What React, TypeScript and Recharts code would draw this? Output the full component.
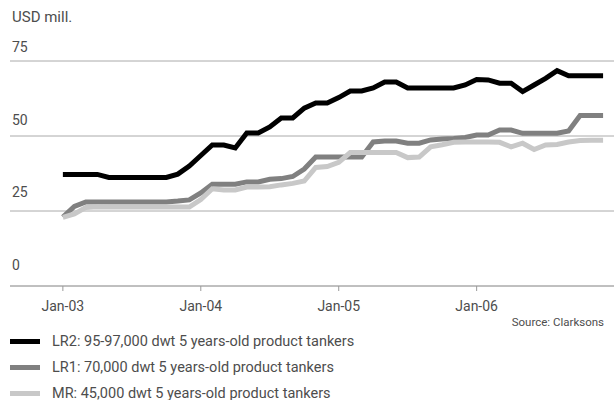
import { CartesianGrid, Line, LineChart, XAxis, YAxis } from "recharts";

// monthly prices, Jan-03 .. Dec-06 (USD mill.)
const lr2 = [
  37.2, 37.2, 37.2, 37.2, 36.2, 36.2, 36.2, 36.2, 36.2, 36.2, 37.3, 40,
  43.5, 47, 47, 46, 51, 51, 53, 56, 56, 59.3, 61, 61,
  62.8, 65, 65, 66, 68, 68, 66, 66, 66, 66, 66, 67,
  68.8, 68.7, 67.6, 67.6, 64.8, 67, 69.2, 71.8, 70.1, 70.1, 70.1, 70.1,
];
const lr1 = [
  23, 26.5, 28, 28, 28, 28, 28, 28, 28, 28, 28.3, 28.7,
  31, 33.9, 33.9, 33.9, 34.7, 34.7, 35.6, 35.8, 36.5, 39, 43, 43,
  43, 43, 43, 48, 48.3, 48.3, 47.6, 47.6, 48.7, 49, 49.2, 49.5,
  50.3, 50.3, 52, 52, 50.9, 50.9, 50.9, 50.9, 51.7, 56.8, 56.8, 56.8,
];
const mr = [
  22.9, 24, 26.2, 26.4, 26.3, 26.3, 26.3, 26.3, 26.3, 26.3, 26.3, 26.3,
  28.8, 32.4, 32, 32, 33, 33, 33.1, 33.7, 34.2, 35, 39.5, 39.8,
  41.2, 44.5, 44.5, 44.5, 44.5, 44.5, 42.8, 43, 46.4, 47.1, 47.9, 48,
  48, 48, 47.9, 46.4, 47.6, 45.5, 47, 47.2, 48, 48.5, 48.6, 48.6,
];

const xTicks = [0, 12, 24, 36];
const xTickLabels = ["Jan-03", "Jan-04", "Jan-05", "Jan-06"];
const yTicks = [0, 25, 50, 75];

const series = [
  { key: "lr2", name: "LR2: 95-97,000 dwt 5 years-old product tankers", color: "#000000" },
  { key: "lr1", name: "LR1: 70,000 dwt 5 years-old product tankers", color: "#808080" },
  { key: "mr", name: "MR: 45,000 dwt 5 years-old product tankers", color: "#c8c8c8" },
];

const data = lr2.map((v, i) => ({ m: i, lr2: v, lr1: lr1[i], mr: mr[i] }));

const FONT = "Roboto, sans-serif";
const TEXT = "#4d4d4d";

function YTick(props: any) {
  const { y, payload } = props;
  const v = payload.value as number;
  return (
    <text x={12} y={y} dy={-14 - (75 - v) / 10 + 5} fill={TEXT} fontSize={14} fontFamily={FONT}>
      {v}
    </text>
  );
}

function XTick(props: any) {
  const { x, y, payload } = props;
  return (
    <text x={x} y={y + 18} textAnchor="middle" fill={TEXT} fontSize={14} fontFamily={FONT}>
      {xTickLabels[xTicks.indexOf(payload.value)]}
    </text>
  );
}

export default function App() {
  return (
    <div style={{ position: "absolute", left: 0, top: 0, width: 614, height: 400, overflow: "hidden", fontFamily: FONT }}>
      <LineChart width={614} height={400} data={data} margin={{ top: 61, right: 0, left: 9, bottom: 84 }}>
        <CartesianGrid vertical={false} stroke="#aaaaaa" strokeWidth={1} />
        <XAxis
          dataKey="m"
          type="number"
          domain={[-4.6, 47.95]}
          ticks={xTicks}
          interval={0}
          allowDataOverflow
          height={30}
          axisLine={{ stroke: "#aaaaaa" }}
          tickLine={{ stroke: "#999999" }}
          tickSize={5}
          tick={<XTick />}
        />
        <YAxis
          domain={[0, 75]}
          ticks={yTicks}
          interval={0}
          width={1}
          axisLine={false}
          tickLine={false}
          tick={<YTick />}
        />
        {series.map((s) => (
          <Line
            key={s.key}
            dataKey={s.key}
            stroke={s.color}
            strokeWidth={5}
            dot={false}
            type="linear"
            isAnimationActive={false}
          />
        ))}
      </LineChart>
      <div style={{ position: "absolute", left: 12, top: 8, fontSize: 15, color: TEXT }}>USD mill.</div>
      <div style={{ position: "absolute", right: 10, top: 315, fontSize: 11.5, color: TEXT }}>Source: Clarksons</div>
      {series.map((s, i) => (
        <div
          key={s.key}
          style={{ position: "absolute", left: 10, top: 332 + i * 26, height: 18, display: "flex", alignItems: "center", fontSize: 14.5, color: TEXT }}
        >
          <span style={{ display: "inline-block", width: 30, height: 5, background: s.color, marginRight: 12 }} />
          <span>{s.name}</span>
        </div>
      ))}
    </div>
  );
}
